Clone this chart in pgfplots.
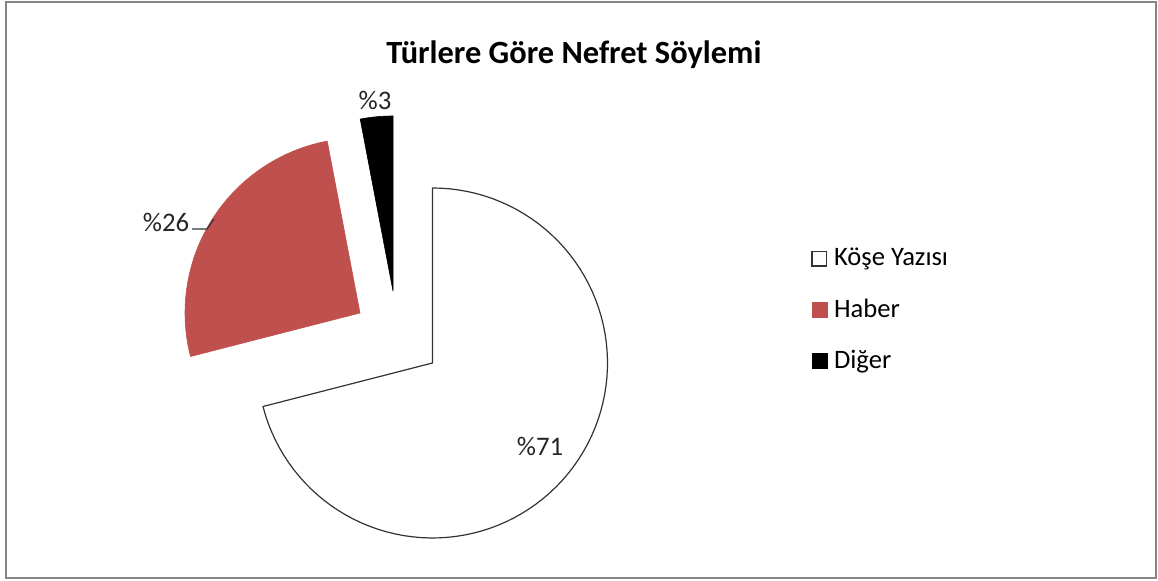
\documentclass[border=0pt]{standalone}
\usepackage{pgfplots}
\pgfplotsset{compat=1.18}
\usepackage{fontspec}
\setmainfont{Carlito}

\definecolor{kose}{HTML}{FFFFFF}
\definecolor{haber}{HTML}{C0504D}
\definecolor{diger}{HTML}{000000}
\definecolor{frame}{HTML}{868686}

% slice shares (percent)
\def\vA{71}
\def\vB{26}
\def\vC{3}
% start at 12 o'clock, go clockwise
\pgfmathsetmacro\aA{90}
\pgfmathsetmacro\aB{\aA-3.6*\vA}
\pgfmathsetmacro\aC{\aB-3.6*\vB}
\pgfmathsetmacro\aD{\aC-3.6*\vC}
\def\R{175}

\begin{document}
\begin{tikzpicture}
\begin{axis}[
    scale only axis, width=579pt, height=290.5pt,
    xmin=0, xmax=1158, ymin=0, ymax=581,
    hide axis, clip=false,
    legend cell align=left,
    legend image code/.code={\draw[#1] (0pt,-3.7pt) rectangle (7.4pt,3.7pt);
        \path[draw=none, fill=none] (0pt,-1pt) rectangle (9pt,1pt);},
    legend style={draw=none, fill=none, at={(axis cs:805,341)}, anchor=north west,
        font=\fontsize{13.3}{15}\selectfont, row sep=11pt,
        nodes={inner sep=2pt}},
]
\path (rel axis cs:0,0) rectangle (rel axis cs:1,1);
\draw[frame, line width=1pt] (6,3) rectangle (1156,579);

% Köşe Yazısı
\addplot[fill=kose, draw=black!80, line width=0.6pt, domain=\aB:\aA, samples=90]
  ({432.5+\R*cos(x)}, {218+\R*sin(x)}) -- (432.5,218) -- cycle;
\addlegendentry{Köşe Yazısı}
% Haber
\addplot[fill=haber, draw=haber, line width=0.3pt, domain=\aC:\aB, samples=60]
  ({360+\R*cos(x)}, {268+\R*sin(x)}) -- (360,268) -- cycle;
\addlegendentry{Haber}
% Diğer
\addplot[fill=diger, draw=diger, line width=0.3pt, domain=\aD:\aC, samples=20]
  ({393+\R*cos(x)}, {290+\R*sin(x)}) -- (393,290) -- cycle;
\addlegendentry{Diğer}

\node[font=\bfseries\fontsize{16.2}{19}\selectfont] at (574,526) {Türlere Göre Nefret Söylemi};
\node[font=\fontsize{13.4}{15}\selectfont, text=black!85] at (540,135) {\%71};
\node[font=\fontsize{13.4}{15}\selectfont, text=black!85] at (166,359) {\%26};
\node[font=\fontsize{13.4}{15}\selectfont, text=black!85] at (375,481) {\%3};
\draw[black!80, line width=0.6pt] (192,352) -- (207,352) -- (214,362);
\end{axis}
\end{tikzpicture}
\end{document}
